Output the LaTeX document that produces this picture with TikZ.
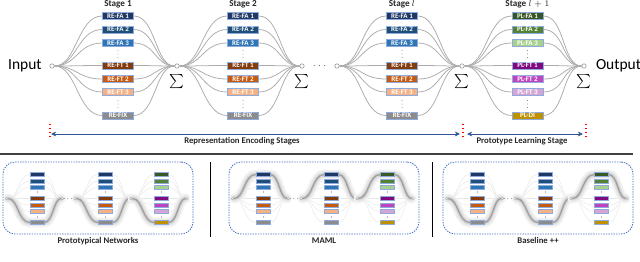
\documentclass[tikz,border=0pt]{standalone}
\usepackage{fontspec}
\setmainfont{Carlito}
\usepackage{xcolor}
\usetikzlibrary{shapes,arrows.meta,positioning,calc}

\definecolor{re1}{HTML}{203864}
\definecolor{re2}{HTML}{1F4E79}
\definecolor{re3}{HTML}{2E75B6}
\definecolor{re4}{HTML}{843C0C}
\definecolor{re5}{HTML}{C55A11}
\definecolor{re6}{HTML}{F4B183}
\definecolor{re7}{HTML}{8C8C8C}
\definecolor{pl1}{HTML}{385723}
\definecolor{pl2}{HTML}{548235}
\definecolor{pl3}{HTML}{A9D18E}
\definecolor{pl4}{HTML}{7F0A7F}
\definecolor{pl5}{HTML}{BF45BF}
\definecolor{pl6}{HTML}{D5A6D5}
\definecolor{pl7}{HTML}{BF9000}
\definecolor{boxedge}{HTML}{8FAADC}
\definecolor{spanblue}{HTML}{2F5597}
\definecolor{panelblue}{HTML}{4472C4}

\pgfdeclarelayer{bg}
\pgfsetlayers{bg,main}

\tikzset{
  stagebox/.style={rectangle,draw=boxedge,line width=0.4pt,minimum width=7.75mm,minimum height=1.75mm,inner sep=0pt,text=white,font=\fontsize{5}{5}\selectfont\bfseries},
  minibox/.style={rectangle,draw=boxedge,line width=0.3pt,minimum width=3.5mm,minimum height=1.1mm,inner sep=0pt},
  junc/.style={circle,draw=gray!80,fill=white,line width=0.45pt,minimum size=1.1mm,inner sep=0pt},
  minijunc/.style={circle,draw=gray!60,fill=white,line width=0.3pt,minimum size=0.6mm,inner sep=0pt},
  link/.style={draw=gray!65,line width=0.55pt},
  faint/.style={draw=gray!18,line width=0.35pt},
  glow/.style={draw=gray!75,line width=0.9pt,line cap=round,
    preaction={draw=gray!10,line width=7pt,line cap=round},
    preaction={draw=gray!20,line width=4.5pt,line cap=round},
    preaction={draw=gray!35,line width=2.4pt,line cap=round}},
  stagelabel/.style={font=\fontsize{6.5}{7}\selectfont\bfseries,text=black!85,inner sep=0.5pt},
  bigtext/.style={font=\fontsize{11}{12}\selectfont,inner sep=0pt},
  sumsign/.style={font=\fontsize{7.5}{8}\selectfont,inner sep=0pt},
  hdots/.style={font=\fontsize{7}{7}\selectfont,text=black!70,inner sep=0pt},
  caplabel/.style={font=\fontsize{6.2}{7}\selectfont\bfseries,text=black!85,inner sep=0.5pt},
  span/.style={draw=spanblue,line width=0.6pt,{Stealth[length=1.3mm,width=1.2mm]}-{Stealth[length=1.3mm,width=1.2mm]}},
  reddash/.style={draw=red,line width=0.8pt,dotted},
  panel/.style={rectangle,rounded corners=3mm,draw=panelblue,line width=0.6pt,dash pattern=on 1pt off 0.8pt,minimum width=4.75cm,minimum height=1.8cm},
  minidots/.style={draw=gray!70,line width=0.5pt,dotted}
}

\begin{document}
\begin{tikzpicture}[x=0.25mm,y=-0.25mm]
    \useasboundingbox (0,0) rectangle (640,261);

    % junctions of the top row
    \node[junc] (c0) at (52,66) {};
    \node[junc] (c1) at (177,66) {};
    \node[junc] (c2) at (302,66) {};
    \node[junc] (c3) at (337,66) {};
    \node[junc] (c4) at (462,66) {};
    \node[junc] (c5) at (584,66) {};
    \foreach \c in {c1,c2,c4,c5}
        \node[sumsign,below=1.3mm of \c] {$\sum$};
    \node[hdots] (gap) at (319.5,66) {$\cdots$};

    \node[bigtext,left=1.9mm of c0] (input) {Input};
    \node[bigtext,right=2.3mm of c5] (output) {Output};

    % representation encoding stages
    \foreach \s/\cx/\a/\b/\lab in {1/118/c0/c1/{Stage 1}, 2/243/c1/c2/{Stage 2}, l/402/c3/c4/{Stage $l$}} {
        \node[stagelabel] at (\cx,4) {\lab};
        \foreach \r/\y/\txt in {1/16/FA 1, 2/29.5/FA 2, 3/43/FA 3, 4/65.5/FT 1, 5/79/FT 2, 6/92/FT 3, 7/115.5/FIX} {
            \node[stagebox,fill=re\r] (s\s-\r) at (\cx,\y) {RE-\txt};
            \begin{pgfonlayer}{bg}
                \draw[link] (\a) .. controls +(25,0) and +(-25,0) .. (s\s-\r.west);
                \draw[link] (s\s-\r.east) .. controls +(22,0) and +(-22,0) .. (\b);
            \end{pgfonlayer}
        }
        \foreach \d in {-3.5,0,3.5} {
            \fill[black!60] (\cx,54+\d) circle (0.35pt);
            \fill[black!60] (\cx,104+\d) circle (0.35pt);
        }
    }

    % prototype learning stage
    \node[stagelabel] at (527.5,4) {Stage $l+1$};
    \foreach \r/\y/\txt in {1/16/FA 1, 2/29.5/FA 2, 3/43/FA 3, 4/65.5/FT 1, 5/79/FT 2, 6/92/FT 3, 7/115.5/DI} {
        \node[stagebox,fill=pl\r] (slp-\r) at (527.5,\y) {PL-\txt};
        \begin{pgfonlayer}{bg}
            \draw[link] (c4) .. controls +(25,0) and +(-25,0) .. (slp-\r.west);
            \draw[link] (slp-\r.east) .. controls +(22,0) and +(-22,0) .. (c5);
        \end{pgfonlayer}
    }
    \foreach \d in {-3.5,0,3.5} {
        \fill[black!60] (527.5,54+\d) circle (0.35pt);
        \fill[black!60] (527.5,104+\d) circle (0.35pt);
    }

    % stage spans
    \coordinate (e0) at (50,134);
    \coordinate (e1) at (463,134);
    \coordinate (e2) at (586,134);
    \foreach \e in {e0,e1,e2}
        \draw[reddash] (\e) ++(0,-10) -- ++(0,15);
    \draw[span,shorten <=0.25mm,shorten >=0.75mm] (e0) -- (e1);
    \draw[span,shorten <=1mm,shorten >=0.75mm] (e1) -- (e2);
    \node[caplabel] at (242,141) {Representation Encoding Stages};
    \node[caplabel] at (522,141) {Prototype Learning Stage};

    \draw[black!75,line width=1pt] (0,154) -- (633,154);

    % method panels
    \node[panel] (protopanel) at (98,198) {};
    \node[panel] (mamlpanel) at (324,198) {};
    \node[panel] (basepanel) at (538,198) {};
    \draw[black,line width=0.7pt] (210,162) -- (210,237);
    \draw[black,line width=0.7pt] (432,162) -- (432,237);
    \node[caplabel,below=0.5mm of protopanel] {Prototypical Networks};
    \node[caplabel,below=0.5mm of mamlpanel] {MAML};
    \node[caplabel,below=0.5mm of basepanel] {Baseline ++};

    \foreach \m/\cx/\k/\hl in {proto1/37/re/7, proto2/105.5/re/7, proto3/161.5/pl/7,
                              maml1/263/re/1, maml2/331.5/re/1, maml3/387.5/pl/1,
                              base1/477/re/7, base2/545.5/re/7, base3/601.5/pl/1} {
        \node[minijunc] (\m-in) at (\cx-30.5,198.5) {};
        \node[minijunc] (\m-out) at (\cx+25.5,198.5) {};
        \foreach \r/\dy in {1/-24, 2/-17.5, 3/-11, 4/0, 5/6.5, 6/13, 7/24} {
            \node[minibox,fill=\k\r] (\m-\r) at (\cx,198.5+\dy) {};
            \begin{pgfonlayer}{bg}
                \draw[faint] (\m-in) .. controls +(12,0) and +(-12,0) .. (\m-\r.west);
                \draw[faint] (\m-\r.east) .. controls +(9,0) and +(-9,0) .. (\m-out);
            \end{pgfonlayer}
        }
        \draw[gray!55,line width=0.3pt] (\cx,191) -- (\cx,193);
        \draw[gray!55,line width=0.3pt] (\cx,216) -- (\cx,218);
        \begin{pgfonlayer}{bg}
            \draw[glow] (\m-in) .. controls +(12,0) and +(-12,0) .. (\m-\hl.west)
                -- (\m-\hl.east) .. controls +(9,0) and +(-9,0) .. (\m-out);
        \end{pgfonlayer}
    }
    \draw[minidots] (proto1-out) -- (proto2-in);
    \draw[minidots] (maml1-out) -- (maml2-in);
    \draw[minidots] (base1-out) -- (base2-in);
\end{tikzpicture}
\end{document}
